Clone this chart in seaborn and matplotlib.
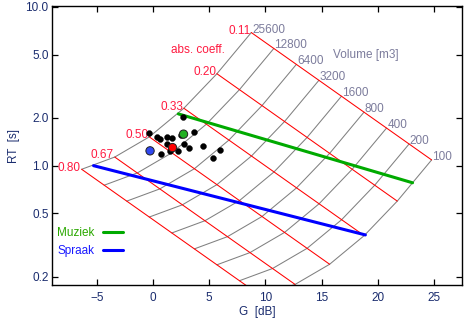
import numpy as np
import pandas as pd
import matplotlib
matplotlib.use("Agg")
import matplotlib.pyplot as plt
import seaborn as sns
from matplotlib.ticker import FixedLocator, NullLocator, FixedFormatter

# ---------------- data ----------------
volumes = [25600, 12800, 6400, 3200, 1600, 800, 400, 200, 100]
volume_labels = ["25600", "12800", "6400", "3200", "1600", "800", "400", "200", "100"]
alphas = [0.11, 0.20, 0.33, 0.50, 0.67, 0.80]
alpha_labels = ["0.11", "0.20", "0.33", "0.50", "0.67", "0.80"]

x_ticks = [-5, 0, 5, 10, 15, 20, 25]
y_ticks = [0.2, 0.5, 1.0, 2.0, 5.0, 10.0]
y_tick_labels = ["0.2", "0.5", "1.0", "2.0", "5.0", "10.0"]

muziek_G = [2.25, 23.1]
muziek_RT = [2.12, 0.78]
spraak_G = [-5.3, 18.9]
spraak_RT = [1.00, 0.366]

halls_G = [-0.34, 0.36, 0.59, 1.24, 1.71, 1.22, 1.47, 2.25, 0.71, 2.49,
           2.70, 3.65, 2.74, 3.23, 4.45, 5.32, 5.96]
halls_RT = [1.60, 1.51, 1.47, 1.505, 1.50, 1.36, 1.24, 1.24, 1.19, 1.56,
            2.03, 1.63, 1.36, 1.30, 1.33, 1.11, 1.25]

highlight_G = [2.71, 1.73, -0.27]
highlight_RT = [1.58, 1.30, 1.24]
highlight_colors = ["#22b022", "#ff0000", "#3048f0"]

# nomogram model constants (Sabine + diffuse-field strength)
SABINE = 0.161
SHAPE = 6.25          # S = SHAPE * V^(2/3)
G_CONST = 31200.0

rows = []
for V in volumes:
    for a in alphas:
        T = SABINE * V / (a * SHAPE * V ** (2.0 / 3.0))
        G = 10 * np.log10(G_CONST * T * (1 - a) / V)
        rows.append({"V": V, "alpha": a, "G": G, "RT": T})
grid = pd.DataFrame(rows)

# ---------------- style ----------------
sns.set_style("ticks")
plt.rcParams["font.family"] = ["Liberation Sans", "DejaVu Sans"]
TXT = "#1a2c6e"

fig = plt.figure(figsize=(4.73, 3.25), dpi=100)
ax = fig.add_axes([0.1099, 0.1231, 0.8668, 0.8575])
ax.set_yscale("log")

# volume lines (gray) and absorption lines (red)
sns.lineplot(data=grid.sort_values(["V", "alpha"]), x="G", y="RT", units="V",
             estimator=None, sort=False, color="#808080", lw=0.75, ax=ax,
             legend=False)
sns.lineplot(data=grid.sort_values(["alpha", "V"], ascending=[True, False]),
             x="G", y="RT", units="alpha", estimator=None, sort=False,
             color="#ff0000", lw=0.75, ax=ax, legend=False)

# optimum lines
sns.lineplot(x=muziek_G, y=muziek_RT, color="#00aa00", lw=2.2, ax=ax,
             label="Muziek", sort=False)
sns.lineplot(x=spraak_G, y=spraak_RT, color="#0000ff", lw=2.2, ax=ax,
             label="Spraak", sort=False)

# halls
sns.scatterplot(x=halls_G, y=halls_RT, color="black", s=18, edgecolor="black",
                linewidth=0.3, ax=ax, zorder=5)
sns.scatterplot(x=highlight_G, y=highlight_RT, hue=list(range(3)),
                palette=highlight_colors, s=36, edgecolor="#202020",
                linewidth=0.7, ax=ax, zorder=6, legend=False)

# labels on the grid
top = grid[grid["alpha"] == alphas[0]].set_index("V")
for V, lab in zip(volumes, volume_labels):
    ax.annotate(lab, (top.loc[V, "G"], top.loc[V, "RT"]), xytext=(0.5, 0),
                textcoords="offset points", ha="left", va="baseline",
                fontsize=8.5, color="#7c7c9c")
left = grid[grid["V"] == volumes[0]].set_index("alpha")
for a, lab in zip(alphas, alpha_labels):
    ax.annotate(lab, (left.loc[a, "G"], left.loc[a, "RT"]), xytext=(-0.5, -1),
                textcoords="offset points", ha="right", va="baseline",
                fontsize=8.5, color="#ff1a40")
ax.text(0.2895, 0.832, "abs. coeff.", transform=ax.transAxes, fontsize=8.5,
        color="#ff1a40", ha="left", va="baseline")
ax.text(0.685, 0.815, "Volume [m3]", transform=ax.transAxes, fontsize=8.5,
        color="#7c7c9c", ha="left", va="baseline")

# axes
ax.set_xlim(-9, 27.5)
ax.set_ylim(0.177, 10.1)
ax.xaxis.set_major_locator(FixedLocator(x_ticks))
ax.yaxis.set_major_locator(FixedLocator(y_ticks))
ax.yaxis.set_major_formatter(FixedFormatter(y_tick_labels))
ax.yaxis.set_minor_locator(NullLocator())
ax.xaxis.set_minor_locator(NullLocator())
ax.tick_params(direction="in", top=True, right=True, length=4, width=0.9,
               labelsize=8.5, labelcolor=TXT, color="black")
ax.tick_params(axis="x", pad=5)
ax.tick_params(axis="y", pad=2.5)
for sp in ax.spines.values():
    sp.set_visible(True)
    sp.set_linewidth(1.0)
    sp.set_color("black")
ax.set_xlabel("G  [dB]", fontsize=8.5, color=TXT, labelpad=1.5)
ax.set_ylabel("RT  [s]", fontsize=8.5, color=TXT, labelpad=4)

leg = ax.legend(loc="lower left", bbox_to_anchor=(0.003, 0.088), frameon=False,
                markerfirst=False, handlelength=1.7, handletextpad=0.75,
                labelspacing=0.5, fontsize=8.5, borderaxespad=0.2,
                borderpad=0.1)
for t, c in zip(leg.get_texts(), ["#2aa800", "#1a1aff"]):
    t.set_color(c)

fig.savefig("out.png", dpi=100)
